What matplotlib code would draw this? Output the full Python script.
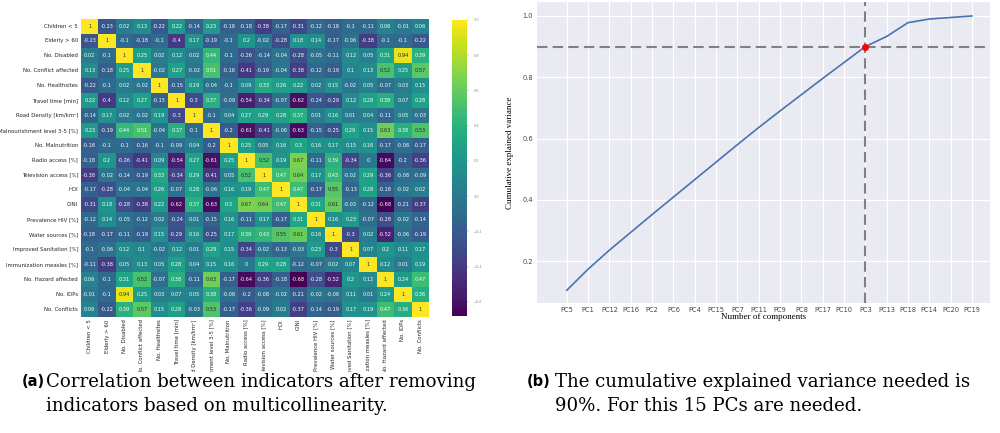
import numpy as np
import matplotlib
matplotlib.use("Agg")
import matplotlib.pyplot as plt
from matplotlib.transforms import Bbox, TransformedBbox
import seaborn as sns

indicators = ["Children < 5", "Elderly > 60", "No. Disabled", "No. Conflict affected",
              "No. Healthsites", "Travel time [min]", "Road Density [km/km²]",
              "Malnourishment level 3-5 [%]", "No. Malnutrition", "Radio access [%]",
              "Television access [%]", "HDI", "GINI", "Prevalence HIV [%]",
              "Water sources [%]", "Improved Sanitation [%]", "Immunization measles [%]",
              "No. Hazard affected", "No. IDPs", "No. Conflicts"]

corr_rows = [
    [1, -0.23, 0.02, 0.13, -0.22, 0.22, -0.14, 0.23, -0.18, -0.18, -0.38, -0.17, -0.31, -0.12, -0.18, -0.1, -0.11, 0.06, -0.01, 0.06],
    [-0.23, 1, -0.1, -0.18, -0.1, -0.4, 0.17, -0.19, -0.1, 0.2, -0.02, -0.28, 0.18, 0.14, -0.17, -0.06, -0.38, -0.1, -0.1, -0.22],
    [0.02, -0.1, 1, 0.25, 0.02, 0.12, 0.02, 0.44, -0.1, -0.26, -0.14, -0.04, -0.28, -0.05, -0.11, 0.12, 0.05, 0.31, 0.94, 0.39],
    [0.13, -0.18, 0.25, 1, -0.02, 0.27, -0.02, 0.51, -0.16, -0.41, -0.19, -0.04, -0.38, -0.12, -0.19, 0.1, 0.13, 0.52, 0.25, 0.57],
    [-0.22, -0.1, 0.02, -0.02, 1, -0.15, 0.19, -0.04, -0.1, 0.09, 0.33, 0.26, 0.22, 0.02, 0.15, -0.02, 0.05, -0.07, 0.03, 0.15],
    [0.22, -0.4, 0.12, 0.27, -0.15, 1, -0.3, 0.37, -0.09, -0.54, -0.34, -0.07, -0.62, -0.24, -0.29, 0.12, 0.28, 0.38, 0.07, 0.28],
    [-0.14, 0.17, 0.02, -0.02, 0.19, -0.3, 1, -0.1, 0.04, 0.27, 0.29, 0.28, 0.37, 0.01, 0.16, 0.01, 0.04, -0.11, 0.05, -0.03],
    [0.23, -0.19, 0.44, 0.51, -0.04, 0.37, -0.1, 1, -0.2, -0.61, -0.41, -0.06, -0.63, -0.15, -0.25, 0.29, 0.15, 0.63, 0.38, 0.53],
    [-0.18, -0.1, -0.1, -0.16, -0.1, -0.09, 0.04, -0.2, 1, 0.25, 0.05, 0.16, 0.3, 0.16, 0.17, 0.15, 0.16, -0.17, -0.08, -0.17],
    [-0.18, 0.2, -0.26, -0.41, 0.09, -0.54, 0.27, -0.61, 0.25, 1, 0.52, 0.19, 0.67, -0.11, 0.39, -0.34, 0, -0.64, -0.2, -0.36],
    [-0.38, -0.02, -0.14, -0.19, 0.33, -0.34, 0.29, -0.41, 0.05, 0.52, 1, 0.47, 0.64, 0.17, 0.43, -0.02, 0.29, -0.36, -0.08, -0.09],
    [-0.17, -0.28, -0.04, -0.04, 0.26, -0.07, 0.28, -0.06, 0.16, 0.19, 0.47, 1, 0.47, -0.17, 0.55, -0.13, 0.28, -0.18, -0.02, 0.02],
    [-0.31, 0.18, -0.28, -0.38, 0.22, -0.62, 0.37, -0.63, 0.3, 0.67, 0.64, 0.47, 1, 0.31, 0.61, -0.03, -0.12, -0.68, -0.21, -0.37],
    [-0.12, 0.14, -0.05, -0.12, 0.02, -0.24, 0.01, -0.15, 0.16, -0.11, 0.17, -0.17, 0.31, 1, 0.16, 0.23, -0.07, -0.28, -0.02, -0.14],
    [-0.18, -0.17, -0.11, -0.19, 0.15, -0.29, 0.16, -0.25, 0.17, 0.39, 0.43, 0.55, 0.61, 0.16, 1, -0.3, 0.02, -0.52, -0.06, -0.19],
    [-0.1, -0.06, 0.12, 0.1, -0.02, 0.12, 0.01, 0.29, 0.15, -0.34, -0.02, -0.13, -0.03, 0.23, -0.3, 1, 0.07, 0.2, 0.11, 0.17],
    [-0.11, -0.38, 0.05, 0.13, 0.05, 0.28, 0.04, 0.15, 0.16, 0, 0.29, 0.28, -0.12, -0.07, 0.02, 0.07, 1, 0.12, 0.01, 0.19],
    [0.06, -0.1, 0.31, 0.52, -0.07, 0.38, -0.11, 0.63, -0.17, -0.64, -0.36, -0.18, -0.68, -0.28, -0.52, 0.2, 0.12, 1, 0.24, 0.47],
    [-0.01, -0.1, 0.94, 0.25, 0.03, 0.07, 0.05, 0.38, -0.08, -0.2, -0.08, -0.02, -0.21, -0.02, -0.06, 0.11, 0.01, 0.24, 1, 0.36],
    [0.06, -0.22, 0.39, 0.57, 0.15, 0.28, -0.03, 0.53, -0.17, -0.36, -0.09, 0.02, -0.37, -0.14, -0.19, 0.17, 0.19, 0.47, 0.36, 1],
]

pc_labels = ["PC5", "PC1", "PC12", "PC16", "PC2", "PC6", "PC4", "PC15", "PC7", "PC11",
             "PC9", "PC8", "PC17", "PC10", "PC3", "PC13", "PC18", "PC14", "PC20", "PC19"]
cum_var = [0.105, 0.174, 0.236, 0.294, 0.352, 0.409, 0.466, 0.523, 0.580, 0.636,
           0.690, 0.743, 0.796, 0.848, 0.900, 0.933, 0.978, 0.990, 0.995, 1.000]
threshold = 0.9
n_needed = 15

fig = plt.figure(figsize=(10, 4.33), dpi=100)

# ---------------- heatmap ----------------
ax1 = fig.add_axes([0.081, 0.269, 0.348, 0.688])
cax = fig.add_axes([0.452, 0.270, 0.015, 0.684])
corr = np.array(corr_rows, dtype=float)
sns.heatmap(corr, ax=ax1, cbar_ax=cax, cmap="viridis", annot=True, fmt="g",
            annot_kws={"size": 3.6}, xticklabels=indicators, yticklabels=indicators)
ax1.tick_params(axis="both", length=0, labelsize=3.9, colors="#262626", pad=2)
ax1.set_yticklabels(indicators, rotation=0, fontsize=3.9)
ax1.set_xticklabels(indicators, rotation=90, fontsize=3.9)
cax.tick_params(labelsize=2.5, length=1.5, width=0.3, colors="#888888")

clip = TransformedBbox(Bbox([[0.0, 1 - 372 / 433], [1.0, 1.0]]), fig.transFigure)
for lbl in ax1.get_xticklabels():
    lbl.set_clip_box(clip)
    lbl.set_clip_on(True)

# ---------------- cumulative variance ----------------
ax2 = fig.add_axes([0.537, 0.300, 0.453, 0.695])
ax2.set_facecolor("#EAEAF2")
ax2.grid(True, color="white", linewidth=0.8)
ax2.set_axisbelow(True)
for s in ax2.spines.values():
    s.set_visible(False)
x = np.arange(len(pc_labels))
ax2.plot(x, cum_var, color="#4C72B0", linewidth=1.2, zorder=3)
ax2.axhline(threshold, color="gray", linestyle=(0, (5, 2.5)), linewidth=1.5, zorder=2)
ax2.axvline(n_needed - 1, color="gray", linestyle=(0, (5, 2.5)), linewidth=1.5, zorder=2)
ax2.plot([n_needed - 1], [threshold], "o", color="red", markersize=4, zorder=4)
ax2.set_xticks(x)
ax2.set_xticklabels(pc_labels)
ax2.set_yticks([0.2, 0.4, 0.6, 0.8, 1.0])
ax2.set_xlim(-1.4, 19.85)
ax2.set_ylim(0.063, 1.045)
ax2.tick_params(axis="both", length=0, labelsize=4.8, colors="#444444", pad=3)
ax2.set_xlabel("Number of components", family="Liberation Serif", fontsize=6.5, labelpad=0)
ax2.set_ylabel("Cumulative explained variance", family="Liberation Serif", fontsize=6.5, labelpad=6)

# ---------------- captions ----------------
serif = "DejaVu Serif"
cap_size = 13.1
fig.text(0.022, 1 - 382 / 433, "(a)", fontsize=10.5, fontweight="bold", family="DejaVu Sans", va="center")
fig.text(0.046, 1 - 382 / 433, "Correlation between indicators after removing", fontsize=cap_size, family=serif, va="center")
fig.text(0.046, 1 - 406 / 433, "indicators based on multicollinearity.", fontsize=cap_size, family=serif, va="center")
fig.text(0.527, 1 - 382 / 433, "(b)", fontsize=10.5, fontweight="bold", family="DejaVu Sans", va="center")
fig.text(0.555, 1 - 382 / 433, "The cumulative explained variance needed is", fontsize=cap_size, family=serif, va="center")
fig.text(0.555, 1 - 406 / 433, "90%. For this 15 PCs are needed.", fontsize=cap_size, family=serif, va="center")

fig.savefig("out.png", dpi=100, facecolor="white")
